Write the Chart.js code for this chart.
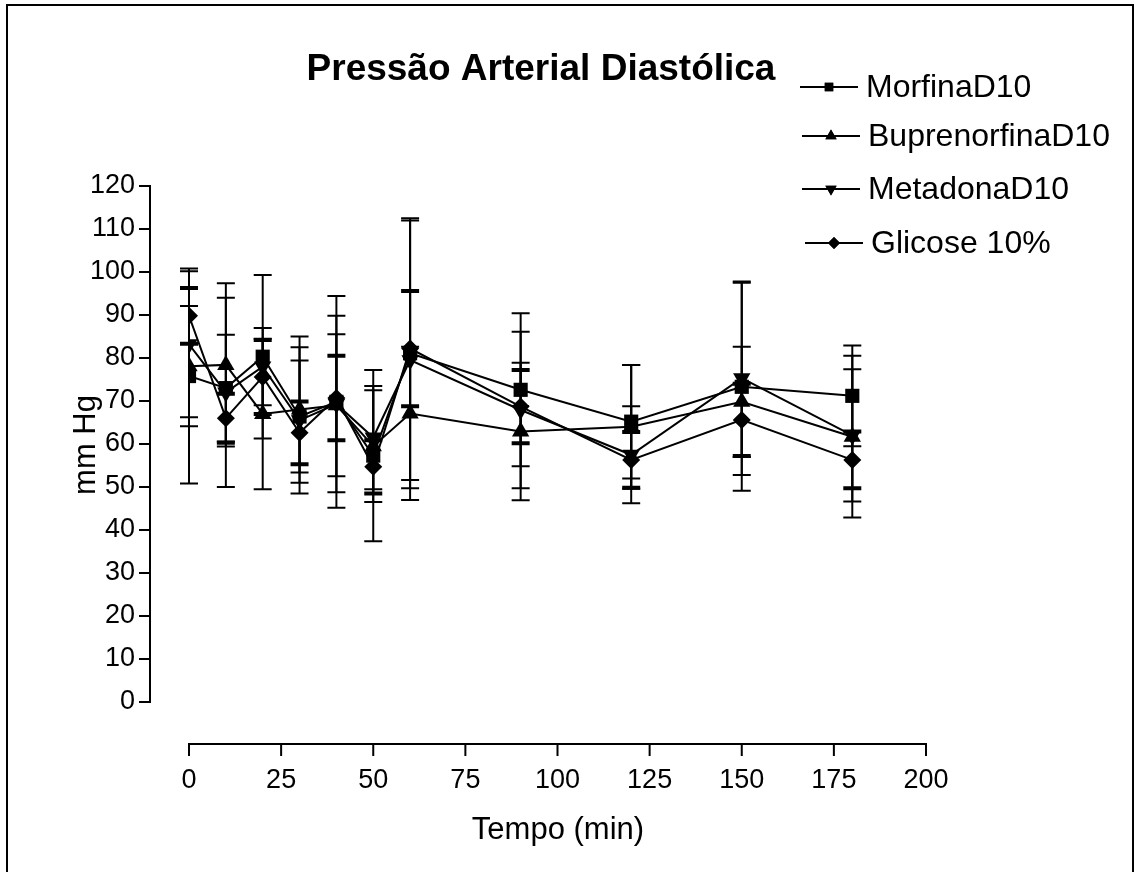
<!DOCTYPE html>
<html>
<head>
<meta charset="utf-8">
<script src="https://cdn.jsdelivr.net/npm/chart.js@4.4.1/dist/chart.umd.min.js"></script>
<style>
    html, body { margin: 0; padding: 0; background: #fff; }
    #grafico { display: block; }
</style>
</head>
<body>
<canvas id="grafico" width="1136" height="872"></canvas>
<script>
"use strict";
// Tempos (min)
var tempos = [0, 10, 20, 30, 40, 50, 60, 90, 120, 150, 180];
// medias (mm Hg)
var morfina = [75.8, 73, 80.3, 66.4, 69.8, 57.3, 81.1, 72.6, 65.2, 73.3, 71.2];
var buprenorfina = [78.1, 78.4, 67, 68, 69, 59.5, 67.1, 62.9, 64, 69.8, 61.7];
var metadona = [83.2, 72, 78, 65.5, 69.3, 61.5, 79.5, 67.9, 57.5, 75.3, 62];
var glicose = [89.8, 66, 75.6, 62.6, 70.7, 54.7, 82.2, 68.7, 56.3, 65.6, 56.3];
// desvios
var morfinaDP = [25, 12.4, 19, 13, 24.6, 19.9, 31.4, 17.8, 13.2, 24.2, 11.7];
var buprenorfinaDP = [14, 19, 17.5, 17, 16.5, 13, 15.5, 16, 14.4, 12.8, 18.8];
var metadonaDP = [17, 22, 9, 17, 20.5, 12, 32.5, 18.2, 11.3, 22.5, 15.4];
var glicoseDP = [6.5, 5.7, 8.6, 7.3, 9.8, 6.2, 13.4, 8.5, 6.5, 8.4, 6.6];

var nomes = ["MorfinaD10", "BuprenorfinaD10", "MetadonaD10", "Glicose 10%"];
var xMin = 0, xMax = 200, xPasso = 25;
var yMin = 0, yMax = 120, yPasso = 10;

var fonte = "'Liberation Sans', Arial, sans-serif";
var estilos = ["rect", "triangle", "triangle", "rectRot"];
var rotacoes = [0, 0, 180, 0];
var raios = [10, 10, 10, 9];
var legRaios = [6, 6.5, 6.5, 6];
var capEsp = [2, 2, 2, 4];

function pontos(vals) {
    var out = [];
    for (var j = 0; j < tempos.length; j++) {
        out.push({x: tempos[j], y: vals[j]});
    }
    return out;
}

var series = [morfina, buprenorfina, metadona, glicose];
var desvios = [morfinaDP, buprenorfinaDP, metadonaDP, glicoseDP];
var datasets = [];
for (var i = 0; i < series.length; i++) {
    datasets.push({
        label: nomes[i],
        data: pontos(series[i]),
        borderColor: '#000',
        backgroundColor: '#000',
        borderWidth: 2,
        pointStyle: estilos[i],
        rotation: rotacoes[i],
        pointRadius: raios[i],
        pointBorderWidth: 0,
        pointBackgroundColor: '#000',
        fill: false,
        tension: 0
    });
}

var extras = {
    id: 'extras',
    beforeDraw: function (chart) {
        var ctx = chart.ctx;
        ctx.save();
        ctx.fillStyle = '#fff';
        ctx.fillRect(0, 0, chart.width, chart.height);
        // moldura (sem linha de baixo)
        ctx.strokeStyle = '#000';
        ctx.lineWidth = 2;
        ctx.beginPath();
        ctx.moveTo(7, 872);
        ctx.lineTo(7, 5);
        ctx.lineTo(1133, 5);
        ctx.lineTo(1133, 872);
        ctx.stroke();
        ctx.restore();
    },
    beforeDatasetsDraw: function (chart) {
        var ctx = chart.ctx;
        var xs = chart.scales.x, ys = chart.scales.y;
        ctx.save();
        ctx.strokeStyle = '#000';
        ctx.lineCap = 'butt';
        // eixo y deslocado
        var ax = xs.left - 39;
        ctx.lineWidth = 2;
        ctx.beginPath();
        ctx.moveTo(ax, ys.getPixelForValue(yMin) + 1);
        ctx.lineTo(ax, ys.getPixelForValue(yMax) - 1);
        ys.ticks.forEach(function (t) {
            var py = ys.getPixelForValue(t.value);
            ctx.moveTo(ax - 11, py);
            ctx.lineTo(ax, py);
        });
        ctx.stroke();
        // eixo x deslocado
        var ay = ys.bottom + 42;
        ctx.beginPath();
        ctx.moveTo(xs.getPixelForValue(xMin) - 1, ay);
        ctx.lineTo(xs.getPixelForValue(xMax) + 1, ay);
        xs.ticks.forEach(function (t) {
            var px = xs.getPixelForValue(t.value);
            ctx.moveTo(px, ay);
            ctx.lineTo(px, ay + 12);
        });
        ctx.stroke();
        // barras de erro
        chart.data.datasets.forEach(function (ds, i) {
            var dp = desvios[i];
            ds.data.forEach(function (p, j) {
                var px = xs.getPixelForValue(p.x);
                var yt = ys.getPixelForValue(p.y + dp[j]);
                var yb = ys.getPixelForValue(p.y - dp[j]);
                ctx.lineWidth = 2;
                ctx.beginPath();
                ctx.moveTo(px, yt);
                ctx.lineTo(px, yb);
                ctx.stroke();
                ctx.lineWidth = capEsp[i];
                ctx.beginPath();
                ctx.moveTo(px - 9, yt);
                ctx.lineTo(px + 9, yt);
                ctx.moveTo(px - 9, yb);
                ctx.lineTo(px + 9, yb);
                ctx.stroke();
            });
        });
        ctx.restore();
    },
    afterDraw: function (chart) {
        var ctx = chart.ctx;
        ctx.save();
        ctx.fillStyle = '#000';
        // titulo
        ctx.font = 'bold 37px ' + fonte;
        ctx.textAlign = 'center';
        ctx.textBaseline = 'alphabetic';
        ctx.fillText('Pressão Arterial Diastólica', 541, 80);
        // titulos dos eixos
        ctx.font = '31px ' + fonte;
        ctx.fillText('Tempo (min)', 558, 839);
        ctx.save();
        ctx.translate(95, 445);
        ctx.rotate(-Math.PI / 2);
        ctx.font = '31px ' + fonte;
        ctx.fillText('mm Hg', 0, 0);
        ctx.restore();
        // legenda
        var legY = [87, 136, 189, 243];
        var legX0 = [800, 802, 802, 805];
        ctx.textAlign = 'left';
        ctx.textBaseline = 'middle';
        ctx.font = '32px ' + fonte;
        ctx.strokeStyle = '#000';
        ctx.lineWidth = 2;
        for (var i = 0; i < nomes.length; i++) {
            var x0 = legX0[i], y0 = legY[i];
            ctx.beginPath();
            ctx.moveTo(x0, y0);
            ctx.lineTo(x0 + 58, y0);
            ctx.stroke();
            Chart.helpers.drawPoint(ctx, {pointStyle: estilos[i], rotation: rotacoes[i], radius: legRaios[i], borderWidth: 0}, x0 + 29, y0);
            ctx.fill();
            ctx.fillText(nomes[i], x0 + 66, y0 + 1);
        }
        ctx.restore();
    }
};

var ctx = document.getElementById('grafico').getContext('2d');
var grafico = new Chart(ctx, {
    type: 'line',
    data: {datasets: datasets},
    options: {
        responsive: false,
        animation: false,
        devicePixelRatio: 1,
        layout: {padding: {top: 186, left: 0, right: 210, bottom: 0}},
        plugins: {
            legend: {display: false},
            title: {display: false},
            tooltip: {enabled: false}
        },
        scales: {
            x: {
                type: 'linear',
                min: xMin,
                max: xMax,
                ticks: {stepSize: xPasso, color: '#000', padding: 62, maxRotation: 0,
                    font: {family: fonte, size: 27}},
                grid: {display: false, drawTicks: false},
                border: {display: false},
                afterFit: function (s) { s.height = 170; }
            },
            y: {
                min: yMin,
                max: yMax,
                ticks: {stepSize: yPasso, color: '#000', padding: 54,
                    font: {family: fonte, size: 27}},
                grid: {display: false, drawTicks: false},
                border: {display: false},
                afterFit: function (s) { s.width = 189; }
            }
        }
    },
    plugins: [extras]
});
</script>
</body>
</html>
